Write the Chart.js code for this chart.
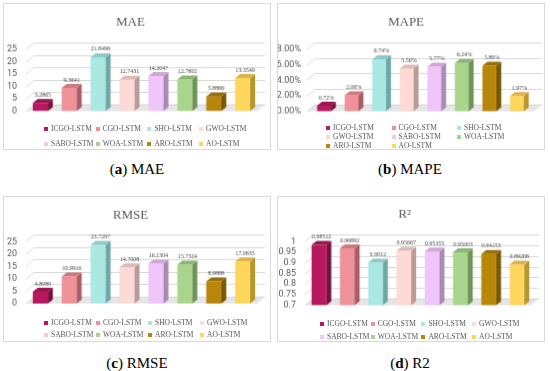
<!DOCTYPE html>
<html>
<head>
<meta charset="UTF-8">
<title>LSTM model error metrics</title>
<script src="https://cdn.jsdelivr.net/npm/chart.js"></script>
<style>
  body { margin: 0; background: #fff; width: 550px; height: 371px; position: relative; overflow: hidden; }
  canvas { position: absolute; border: 1px solid #d9d9d9; }
  .item { position: absolute; white-space: nowrap; line-height: 8px; font: 7.5px 'Liberation Serif', serif; color: #595959; }
  .item i { display: inline-block; width: 4px; height: 4px; margin-right: 3px; vertical-align: 0px; }
  .caption { position: absolute; width: 200px; line-height: 18px; text-align: center; font: 15px 'Liberation Serif', serif; color: #000; }
</style>
</head>
<body>
<canvas id="mae" width="268" height="147" style="left:3px;top:3px"></canvas>
<canvas id="mape" width="268" height="147" style="left:277px;top:3px"></canvas>
<canvas id="rmse" width="268" height="146" style="left:3px;top:196px"></canvas>
<canvas id="r2" width="268" height="146" style="left:277px;top:196px"></canvas>
<div class="caption" style="left:37px;top:161px">(<b>a</b>) MAE</div>
<div class="caption" style="left:310px;top:161px">(<b>b</b>) MAPE</div>
<div class="caption" style="left:37px;top:355px">(<b>c</b>) RMSE</div>
<div class="caption" style="left:310px;top:355px">(<b>d</b>) R2</div>

<script>
const models = ['ICGO-LSTM', 'CGO-LSTM', 'SHO-LSTM', 'GWO-LSTM', 'SABO-LSTM', 'WOA-LSTM', 'ARO-LSTM', 'AO-LSTM'];
const maeValues = [3.2865, 9.3641, 21.8496, 12.7431, 14.2047, 12.7802, 5.8866, 13.3549];
const mapeValues = [0.72, 2.06, 6.74, 5.50, 5.77, 6.24, 5.89, 1.97];
const rmseValues = [4.8089, 10.9916, 23.7297, 14.7008, 16.1304, 15.7324, 8.9888, 17.0635];
const r2Values = [0.98512, 0.96892, 0.9012, 0.95667, 0.95355, 0.95003, 0.94153, 0.89206];

const frontColors = ['#b8185e', '#ef9199', '#a9e8e3', '#fddad5', '#f0c5fa', '#a9d48c', '#b8860b', '#ffd65c'];
const sideColors = ['#7a0e3d', '#a95d64', '#6fa8a3', '#b99c97', '#aa8ab3', '#6e9456', '#7a5800', '#b8962f'];
const topColors = ['#9a1450', '#cf7880', '#8ccac5', '#dcbab5', '#cfa6d8', '#8bb671', '#996f05', '#dcb546'];

const WX = 8, WY = 7;   // wall depth
const BX = 5, BY = 4;   // bar depth

const bar3d = {
  id: 'bar3d',
  beforeDatasetsDraw(chart) {
    const {ctx, chartArea: a, scales: {y}} = chart;
    ctx.save();
    ctx.fillStyle = '#e6e6e6';
    ctx.beginPath();
    ctx.moveTo(a.left, a.bottom);
    ctx.lineTo(a.right, a.bottom);
    ctx.lineTo(a.right + WX, a.bottom - WY);
    ctx.lineTo(a.left + WX, a.bottom - WY);
    ctx.closePath();
    ctx.fill();
    ctx.strokeStyle = '#d9d9d9';
    ctx.lineWidth = 1;
    y.ticks.forEach(t => {
      const py = Math.round(y.getPixelForValue(t.value)) + 0.5;
      ctx.beginPath();
      ctx.moveTo(a.left, py);
      ctx.lineTo(a.left + WX, py - WY);
      ctx.lineTo(a.right + WX, py - WY);
      ctx.stroke();
    });
    ctx.restore();
  },
  afterDatasetsDraw(chart, args, opts) {
    const ctx = chart.ctx;
    ctx.save();
    chart.data.datasets.forEach((ds, i) => {
      const bar = chart.getDatasetMeta(i).data[0];
      const {x, y, base, width} = bar.getProps(['x', 'y', 'base', 'width'], true);
      const l = x - width / 2, r = x + width / 2;
      ctx.fillStyle = sideColors[i];
      ctx.beginPath();
      ctx.moveTo(r, y);
      ctx.lineTo(r + BX, y - BY);
      ctx.lineTo(r + BX, base - BY);
      ctx.lineTo(r, base);
      ctx.closePath();
      ctx.fill();
      ctx.fillStyle = topColors[i];
      ctx.beginPath();
      ctx.moveTo(l, y);
      ctx.lineTo(l + BX, y - BY);
      ctx.lineTo(r + BX, y - BY);
      ctx.lineTo(r, y);
      ctx.closePath();
      ctx.fill();
      ctx.fillStyle = '#404040';
      ctx.font = "6px 'Liberation Serif', serif";
      ctx.textAlign = 'center';
      ctx.textBaseline = 'bottom';
      ctx.fillText(opts.format(ds.data[0]), x + BX / 2, y - BY - 1);
    });
    ctx.restore();
  }
};

function makeChart(id, title, values, cfg) {
  new Chart(document.getElementById(id), {
    type: 'bar',
    data: {
      labels: [''],
      datasets: models.map((m, i) => ({
        label: m,
        data: [values[i]],
        base: cfg.min,
        backgroundColor: frontColors[i],
        borderWidth: 0
      }))
    },
    options: {
      responsive: false,
      animation: false,
      categoryPercentage: cfg.cat,
      barPercentage: cfg.bar,
      layout: { padding: { left: 0, right: cfg.padRight, top: 0, bottom: cfg.padBottom } },
      plugins: {
        legend: { display: false },
        tooltip: { enabled: false },
        title: {
          display: true,
          text: title,
          color: '#595959',
          font: { family: "'Liberation Serif', serif", size: 13, weight: 'normal' },
          padding: { top: cfg.titleTop, bottom: cfg.titleBottom }
        },
        bar3d: { format: cfg.format }
      },
      scales: {
        x: { display: false },
        y: {
          min: cfg.min,
          max: cfg.max,
          grid: { display: false, drawTicks: false },
          border: { display: false },
          afterFit: s => { s.width = cfg.axisWidth; },
          ticks: {
            stepSize: cfg.step,
            autoSkip: false,
            padding: cfg.tickPad,
            color: '#595959',
            font: { family: "'Liberation Sans Narrow', 'Roboto', sans-serif", size: 9 },
            callback: cfg.tick
          }
        }
      }
    },
    plugins: [bar3d]
  });
}

makeChart('mae', 'MAE', maeValues, {
  min: 0, max: 25, step: 5, tick: v => v, format: v => v.toFixed(4),
  axisWidth: 22, tickPad: 9, padRight: 13, padBottom: 38.5, titleTop: 11.2, titleBottom: 19.2,
  cat: 1, bar: 0.52
});
makeChart('mape', 'MAPE', mapeValues, {
  min: 0, max: 8, step: 2, tick: v => v.toFixed(2) + '%', format: v => v.toFixed(2) + '%',
  axisWidth: 29, tickPad: 6, padRight: 10, padBottom: 38.3, titleTop: 11.2, titleBottom: 19.2,
  cat: 0.97, bar: 0.5
});
makeChart('rmse', 'RMSE', rmseValues, {
  min: 0, max: 25, step: 5, tick: v => v, format: v => v.toFixed(4),
  axisWidth: 22, tickPad: 9, padRight: 13, padBottom: 38, titleTop: 11.2, titleBottom: 18.5,
  cat: 1, bar: 0.52
});
makeChart('r2', 'R²', r2Values, {
  min: 0.7, max: 1, step: 0.05, tick: v => String(Math.round(v * 100) / 100), format: v => String(v),
  axisWidth: 27, tickPad: 9, padRight: 13, padBottom: 36.3, titleTop: 10.2, titleBottom: 19.5,
  cat: 1, bar: 0.52
});

// legends laid out in Excel-like columns
const legends = [
  { left: 44, top: 128, colW: 51.7, rowH: 15, perRow: 4 },
  { left: 326, top: 127, colW: 65.5, rowH: 9, perRow: 3 },
  { left: 44, top: 322, colW: 52, rowH: 12, perRow: 4 },
  { left: 320, top: 322.5, colW: 50.7, rowH: 13.5, perRow: 4 }
];
legends.forEach(lg => {
  models.forEach((m, i) => {
    const el = document.createElement('span');
    el.className = 'item';
    el.style.left = (lg.left + (i % lg.perRow) * lg.colW) + 'px';
    el.style.top = (lg.top + Math.floor(i / lg.perRow) * lg.rowH - 4) + 'px';
    el.innerHTML = '<i style="background:' + frontColors[i] + '"></i>' + m;
    document.body.appendChild(el);
  });
});
</script>
</body>
</html>
